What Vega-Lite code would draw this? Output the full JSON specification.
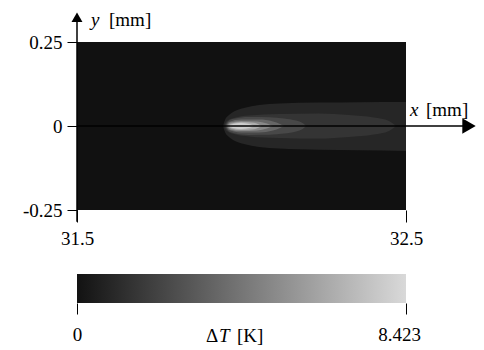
{
  "$schema": "https://vega.github.io/schema/vega-lite/v6.json",
  "padding": {"left": 22, "top": 10, "right": 0, "bottom": 0},
  "spacing": 26,
  "config": {
    "font": "Liberation Serif",
    "view": {"stroke": null},
    "axis": {"labelFont": "Liberation Serif", "labelFontSize": 19, "labelColor": "#000000", "tickColor": "#000000", "tickWidth": 1, "domain": false, "grid": false, "title": null, "labelFlush": false}
  },
  "vconcat": [
    {
      "width": 329,
      "height": 168,
      "view": {"fill": "#111111", "stroke": null},
      "layer": [
        {
          "data": {"values": [
            {"lv": 1, "dT": 1.0, "x": 31.9438, "top": 0, "bot": 0},
            {"lv": 1, "dT": 1.0, "x": 31.9498, "top": 0.0179, "bot": -0.0179},
            {"lv": 1, "dT": 1.0, "x": 31.9620, "top": 0.0327, "bot": -0.0327},
            {"lv": 1, "dT": 1.0, "x": 31.9802, "top": 0.0446, "bot": -0.0446},
            {"lv": 1, "dT": 1.0, "x": 32.0076, "top": 0.0536, "bot": -0.0536},
            {"lv": 1, "dT": 1.0, "x": 32.0532, "top": 0.0625, "bot": -0.0625},
            {"lv": 1, "dT": 1.0, "x": 32.1140, "top": 0.0670, "bot": -0.0670},
            {"lv": 1, "dT": 1.0, "x": 32.2356, "top": 0.0699, "bot": -0.0705},
            {"lv": 1, "dT": 1.0, "x": 32.3571, "top": 0.0710, "bot": -0.0725},
            {"lv": 1, "dT": 1.0, "x": 32.5, "top": 0.0715, "bot": -0.0745},
            {"lv": 2, "dT": 1.7, "x": 31.9468, "top": 0, "bot": 0},
            {"lv": 2, "dT": 1.7, "x": 31.9559, "top": 0.0149, "bot": -0.0149},
            {"lv": 2, "dT": 1.7, "x": 31.9772, "top": 0.0238, "bot": -0.0238},
            {"lv": 2, "dT": 1.7, "x": 32.0228, "top": 0.0312, "bot": -0.0312},
            {"lv": 2, "dT": 1.7, "x": 32.1140, "top": 0.0357, "bot": -0.0357},
            {"lv": 2, "dT": 1.7, "x": 32.2356, "top": 0.0372, "bot": -0.0372},
            {"lv": 2, "dT": 1.7, "x": 32.3267, "top": 0.0327, "bot": -0.0327},
            {"lv": 2, "dT": 1.7, "x": 32.4027, "top": 0.0253, "bot": -0.0253},
            {"lv": 2, "dT": 1.7, "x": 32.4483, "top": 0.0149, "bot": -0.0149},
            {"lv": 2, "dT": 1.7, "x": 32.4696, "top": 0, "bot": 0},
            {"lv": 3, "dT": 2.6, "x": 31.9498, "top": 0, "bot": 0},
            {"lv": 3, "dT": 2.6, "x": 31.9590, "top": 0.0134, "bot": -0.0134},
            {"lv": 3, "dT": 2.6, "x": 31.9772, "top": 0.0215, "bot": -0.0215},
            {"lv": 3, "dT": 2.6, "x": 32.0228, "top": 0.0265, "bot": -0.0265},
            {"lv": 3, "dT": 2.6, "x": 32.0836, "top": 0.0262, "bot": -0.0262},
            {"lv": 3, "dT": 2.6, "x": 32.1292, "top": 0.0225, "bot": -0.0225},
            {"lv": 3, "dT": 2.6, "x": 32.1657, "top": 0.0160, "bot": -0.0160},
            {"lv": 3, "dT": 2.6, "x": 32.1869, "top": 0.0080, "bot": -0.0080},
            {"lv": 3, "dT": 2.6, "x": 32.1960, "top": 0, "bot": 0},
            {"lv": 4, "dT": 3.9, "x": 31.9529, "top": 0, "bot": 0},
            {"lv": 4, "dT": 3.9, "x": 31.9620, "top": 0.0119, "bot": -0.0119},
            {"lv": 4, "dT": 3.9, "x": 31.9985, "top": 0.0193, "bot": -0.0193},
            {"lv": 4, "dT": 3.9, "x": 32.0532, "top": 0.0193, "bot": -0.0193},
            {"lv": 4, "dT": 3.9, "x": 32.0957, "top": 0.0134, "bot": -0.0134},
            {"lv": 4, "dT": 3.9, "x": 32.1170, "top": 0.0060, "bot": -0.0060},
            {"lv": 4, "dT": 3.9, "x": 32.1292, "top": 0, "bot": 0},
            {"lv": 5, "dT": 5.3, "x": 31.9559, "top": 0, "bot": 0},
            {"lv": 5, "dT": 5.3, "x": 31.9650, "top": 0.0104, "bot": -0.0104},
            {"lv": 5, "dT": 5.3, "x": 31.9985, "top": 0.0149, "bot": -0.0149},
            {"lv": 5, "dT": 5.3, "x": 32.0471, "top": 0.0134, "bot": -0.0134},
            {"lv": 5, "dT": 5.3, "x": 32.0775, "top": 0.0074, "bot": -0.0074},
            {"lv": 5, "dT": 5.3, "x": 32.0957, "top": 0, "bot": 0},
            {"lv": 6, "dT": 6.8, "x": 31.9590, "top": 0, "bot": 0},
            {"lv": 6, "dT": 6.8, "x": 31.9681, "top": 0.0074, "bot": -0.0074},
            {"lv": 6, "dT": 6.8, "x": 31.9985, "top": 0.0119, "bot": -0.0119},
            {"lv": 6, "dT": 6.8, "x": 32.0380, "top": 0.0095, "bot": -0.0095},
            {"lv": 6, "dT": 6.8, "x": 32.0623, "top": 0, "bot": 0},
            {"lv": 7, "dT": 8.0, "x": 31.9620, "top": 0, "bot": 0},
            {"lv": 7, "dT": 8.0, "x": 31.9742, "top": 0.0060, "bot": -0.0060},
            {"lv": 7, "dT": 8.0, "x": 31.9985, "top": 0.0089, "bot": -0.0089},
            {"lv": 7, "dT": 8.0, "x": 32.0228, "top": 0.0060, "bot": -0.0060},
            {"lv": 7, "dT": 8.0, "x": 32.0380, "top": 0, "bot": 0}
          ]},
          "mark": {"type": "area", "interpolate": "monotone"},
          "encoding": {
            "x": {"field": "x", "type": "quantitative", "scale": {"domain": [31.5, 32.5], "nice": false, "zero": false},
                  "axis": {"orient": "bottom", "values": [31.5, 32.5], "format": ".1f", "tickSize": 12, "labelPadding": 7}},
            "y": {"field": "top", "type": "quantitative", "scale": {"domain": [-0.25, 0.25], "nice": false, "zero": false},
                  "axis": {"orient": "left", "values": [-0.25, 0, 0.25], "tickSize": 10, "labelPadding": 5,
                           "labelExpr": "datum.value > 0.1 ? '0.25' : (datum.value < -0.1 ? '-0.25' : '0')"}},
            "y2": {"field": "bot"},
            "color": {"field": "dT", "type": "quantitative", "scale": {"domain": [0, 8.423], "range": ["#121212", "#d9d9d9"]}, "legend": null},
            "detail": {"field": "lv", "type": "ordinal"}
          }
        },
        {
          "data": {"values": [{}]},
          "mark": {"type": "rule", "color": "#000000", "strokeWidth": 1.5},
          "encoding": {
            "x": {"datum": 31.5, "scale": {"domain": [31.5, 32.5], "nice": false, "zero": false}},
            "x2": {"datum": 32.6915},
            "y": {"datum": 0, "scale": {"domain": [-0.25, 0.25], "nice": false, "zero": false}}
          }
        },
        {
          "data": {"values": [{}]},
          "mark": {"type": "rule", "color": "#000000", "strokeWidth": 1.5},
          "encoding": {
            "x": {"datum": 31.5, "scale": {"domain": [31.5, 32.5], "nice": false, "zero": false}},
            "y": {"datum": -0.285, "scale": {"domain": [-0.25, 0.25], "nice": false, "zero": false}},
            "y2": {"datum": 0.3237}
          }
        },
        {
          "data": {"values": [{}]},
          "mark": {"type": "point", "shape": "triangle-right", "filled": true, "color": "#000000", "opacity": 1, "size": 240},
          "encoding": {
            "x": {"datum": 32.6915, "scale": {"domain": [31.5, 32.5], "nice": false, "zero": false}},
            "y": {"datum": 0, "scale": {"domain": [-0.25, 0.25], "nice": false, "zero": false}}
          }
        },
        {
          "data": {"values": [{}]},
          "mark": {"type": "point", "shape": "triangle-up", "filled": true, "color": "#000000", "opacity": 1, "size": 120},
          "encoding": {
            "x": {"datum": 31.5, "scale": {"domain": [31.5, 32.5], "nice": false, "zero": false}},
            "y": {"datum": 0.3237, "scale": {"domain": [-0.25, 0.25], "nice": false, "zero": false}}
          }
        },
        {
          "data": {"values": [{}]},
          "mark": {"type": "text", "text": "y", "font": "Liberation Serif", "fontStyle": "italic", "fontSize": 19, "align": "left", "baseline": "alphabetic", "color": "#000000"},
          "encoding": {
            "x": {"datum": 31.5426, "scale": {"domain": [31.5, 32.5], "nice": false, "zero": false}},
            "y": {"datum": 0.299, "scale": {"domain": [-0.25, 0.25], "nice": false, "zero": false}}
          }
        },
        {
          "data": {"values": [{}]},
          "mark": {"type": "text", "text": "[mm]", "font": "Liberation Serif", "fontSize": 19, "align": "left", "baseline": "alphabetic", "color": "#000000"},
          "encoding": {
            "x": {"datum": 31.5973, "scale": {"domain": [31.5, 32.5], "nice": false, "zero": false}},
            "y": {"datum": 0.299, "scale": {"domain": [-0.25, 0.25], "nice": false, "zero": false}}
          }
        },
        {
          "data": {"values": [{}]},
          "mark": {"type": "text", "text": "x", "font": "Liberation Serif", "fontStyle": "italic", "fontSize": 19, "align": "left", "baseline": "alphabetic", "color": "#000000"},
          "encoding": {
            "x": {"datum": 32.5122, "scale": {"domain": [31.5, 32.5], "nice": false, "zero": false}},
            "y": {"datum": 0.0283, "scale": {"domain": [-0.25, 0.25], "nice": false, "zero": false}}
          }
        },
        {
          "data": {"values": [{}]},
          "mark": {"type": "text", "text": "[mm]", "font": "Liberation Serif", "fontSize": 19, "align": "left", "baseline": "alphabetic", "color": "#000000"},
          "encoding": {
            "x": {"datum": 32.5608, "scale": {"domain": [31.5, 32.5], "nice": false, "zero": false}},
            "y": {"datum": 0.0283, "scale": {"domain": [-0.25, 0.25], "nice": false, "zero": false}}
          }
        }
      ]
    },
    {
      "width": 329,
      "height": 29,
      "layer": [
        {
          "data": {"values": [{"lo": 0, "hi": 8.423}]},
          "mark": {"type": "rect", "color": {"gradient": "linear", "x1": 0, "x2": 1, "y1": 0, "y2": 0,
                   "stops": [{"offset": 0, "color": "#121212"}, {"offset": 1, "color": "#d9d9d9"}]}},
          "encoding": {
            "x": {"field": "lo", "type": "quantitative", "scale": {"domain": [0, 8.423], "nice": false, "zero": false},
                  "axis": {"orient": "bottom", "values": [0, 8.423], "tickSize": 11, "labelPadding": 11, "labelFlush": false,
                           "labelExpr": "datum.value < 1 ? '0' : '8.423'",
                           "labelOffset": {"condition": {"test": "datum.value > 1", "value": -7}, "value": 0}}},
            "x2": {"field": "hi"},
            "y": {"datum": 0, "scale": {"domain": [0, 1], "nice": false, "zero": false}, "axis": null},
            "y2": {"datum": 1}
          }
        },
        {
          "data": {"values": [{}]},
          "mark": {"type": "text", "text": "Δ", "font": "Liberation Serif", "fontSize": 19, "align": "left", "baseline": "alphabetic", "color": "#000000"},
          "encoding": {
            "x": {"datum": 3.303, "scale": {"domain": [0, 8.423], "nice": false, "zero": false}},
            "y": {"datum": -1.345, "scale": {"domain": [0, 1], "nice": false, "zero": false}}
          }
        },
        {
          "data": {"values": [{}]},
          "mark": {"type": "text", "text": "T", "font": "Liberation Serif", "fontStyle": "italic", "fontSize": 19, "align": "left", "baseline": "alphabetic", "color": "#000000"},
          "encoding": {
            "x": {"datum": 3.635, "scale": {"domain": [0, 8.423], "nice": false, "zero": false}},
            "y": {"datum": -1.345, "scale": {"domain": [0, 1], "nice": false, "zero": false}}
          }
        },
        {
          "data": {"values": [{}]},
          "mark": {"type": "text", "text": "[K]", "font": "Liberation Serif", "fontSize": 19, "align": "left", "baseline": "alphabetic", "color": "#000000"},
          "encoding": {
            "x": {"datum": 4.096, "scale": {"domain": [0, 8.423], "nice": false, "zero": false}},
            "y": {"datum": -1.345, "scale": {"domain": [0, 1], "nice": false, "zero": false}}
          }
        }
      ]
    }
  ]
}
